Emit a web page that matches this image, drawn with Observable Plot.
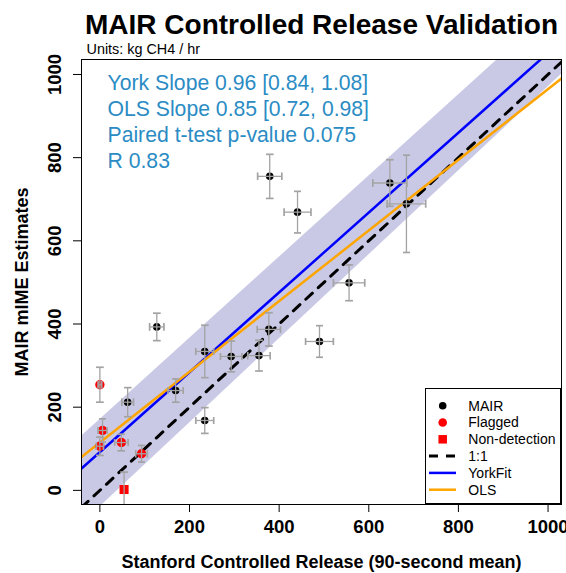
<!DOCTYPE html>
<html>
<head>
<meta charset="utf-8">
<script src="https://cdn.jsdelivr.net/npm/d3@7"></script>
<script src="https://cdn.jsdelivr.net/npm/@observablehq/plot@0.6"></script>
<style>
  body { margin: 0; background: #fff; }
  #wrap { position: relative; width: 566px; height: 573px; font-family: "Liberation Sans", Arial, Helvetica, sans-serif; }
  #legend { position: absolute; left: 425px; top: 388px; }
</style>
</head>
<body>
<div id="wrap"><div id="chart"></div><div id="legend"></div></div>
<script>
// ---------- data ----------
const xDomain = [-41, 1030];
const yDomain = [-34, 1036];
const xTicks = [0, 200, 400, 600, 800, 1000];
const yTicks = [0, 200, 400, 600, 800, 1000];

// MAIR (black) points
const mairX    = [379, 441, 647, 684, 556, 490, 377, 355, 293, 234, 169, 127, 234, 62];
const mairY    = [755, 669, 739, 689, 499, 358, 387, 324, 322, 334, 240, 393, 168, 212];
const mairXerr = [27, 30, 38, 43, 35, 31, 26, 25, 24, 20, 17, 16, 20, 13];
const mairYerr = [53, 50, 56, 117, 43, 38, 40, 37, 37, 63, 28, 33, 31, 35];

// Flagged (red) points
const flagX    = [0, 6, 0, 48, 93];
const flagY    = [254, 144, 106, 115, 88];
const flagXerr = [4, 10, 8, 15, 13];
const flagYerr = [42, 28, 22, 20, 20];

// Non-detection (red square)
const ndX = [54], ndY = [2], ndXerr = [0], ndYerr = [42];

// Fits
const york = {slope: 0.96, intercept: 92};
const ols = {slope: 0.85, intercept: 115};
const oneToOne = {slope: 1, intercept: 0};
const bandUpper = {slope: 0.976, intercept: 170};
const bandLower = {slope: 1.01, intercept: -40};

const statLines = [
  "York Slope 0.96 [0.84, 1.08]",
  "OLS Slope 0.85 [0.72, 0.98]",
  "Paired t-test p-value 0.075",
  "R 0.83"
];
const legendLabels = ["MAIR", "Flagged", "Non-detection", "1:1", "YorkFit", "OLS"];

const titleText = "MAIR Controlled Release Validation";
const subtitleParts = ["Units: kg CH", "4", " / hr"];
const xLabel = "Stanford Controlled Release (90-second mean)";
const yLabel = "MAIR mIME Estimates";

// ---------- build tables ----------
const zip = (xs, ys, exs, eys, group) => xs.map((x, i) => ({x, y: ys[i], ex: exs[i], ey: eys[i], group}));
const mair = zip(mairX, mairY, mairXerr, mairYerr, "MAIR");
const flagged = zip(flagX, flagY, flagXerr, flagYerr, "Flagged");
const nondet = zip(ndX, ndY, ndXerr, ndYerr, "Non-detection");
const allPts = [...mair, ...flagged, ...nondet];

const at = (f, x) => f.intercept + f.slope * x;
const lineData = (f) => xDomain.map(x => ({x, y: at(f, x)}));
const bandData = xDomain.map(x => ({x, lo: at(bandLower, x), hi: at(bandUpper, x)}));

const FONT = '"Liberation Sans", Arial, Helvetica, sans-serif';
const blueText = "#2b8cc4";
const barColor = "#a3a3a3";

const chart = Plot.plot({
  width: 566,
  height: 573,
  marginLeft: 81,
  marginRight: 5,
  marginTop: 59,
  marginBottom: 69,
  x: {domain: xDomain, axis: null},
  y: {domain: yDomain, axis: null},
  style: {fontFamily: FONT, background: "white", color: "black"},
  marks: [
    Plot.areaY(bandData, {x: "x", y1: "lo", y2: "hi", fill: "#c9c9e6", clip: true}),
    Plot.line(lineData(oneToOne), {x: "x", y: "y", stroke: "black", strokeWidth: 3, strokeDasharray: "9,8", clip: true}),
    Plot.line(lineData(york), {x: "x", y: "y", stroke: "#0000ff", strokeWidth: 2.5, clip: true}),
    Plot.line(lineData(ols), {x: "x", y: "y", stroke: "#ffa500", strokeWidth: 2.5, clip: true}),
    Plot.dot(mair, {x: "x", y: "y", r: 3.8, fill: "black", stroke: null}),
    Plot.dot(flagged, {x: "x", y: "y", r: 4.7, fill: "red", stroke: null}),
    Plot.dot(nondet, {x: "x", y: "y", r: 5.1, symbol: "square", fill: "red", stroke: null}),
    Plot.link(allPts.filter(d => d.ex > 0), {
      x1: d => d.x - d.ex, x2: d => d.x + d.ex, y1: "y", y2: "y",
      stroke: barColor, strokeWidth: 1.3, markerStart: "tick", markerEnd: "tick", clip: true
    }),
    Plot.link(allPts.filter(d => d.ey > 0), {
      x1: "x", x2: "x", y1: d => d.y - d.ey, y2: d => d.y + d.ey,
      stroke: barColor, strokeWidth: 1.3, markerStart: "tick", markerEnd: "tick", clip: true
    }),
    Plot.frame({stroke: "black", strokeWidth: 1}),
    Plot.axisX({ticks: xTicks, tickSize: 8, tickFormat: () => "", label: null}),
    Plot.axisY({ticks: yTicks, tickSize: 8, tickFormat: () => "", label: null}),
    Plot.text(xTicks, {x: d => d, text: d => String(d), frameAnchor: "bottom", dy: 28,
      lineAnchor: "bottom", textAnchor: "middle", fontSize: 18.5, fontWeight: "bold", fill: "black"}),
    Plot.text(yTicks, {y: d => d, text: d => String(d), frameAnchor: "left", dx: -26, rotate: -90,
      lineAnchor: "middle", textAnchor: "middle", fontSize: 18.5, fontWeight: "bold", fill: "black"}),
    Plot.text([xLabel], {text: d => d, frameAnchor: "bottom", dy: 63, lineAnchor: "bottom", textAnchor: "middle",
      fontSize: 18, fontWeight: "bold", fill: "black"}),
    Plot.text([yLabel], {text: d => d, frameAnchor: "left", dx: -59, rotate: -90, lineAnchor: "middle", textAnchor: "middle",
      fontSize: 18, fontWeight: "bold", fill: "black"}),
    Plot.text([titleText], {text: d => d, frameAnchor: "top", dy: -34, lineAnchor: "middle", textAnchor: "middle",
      fontSize: 28, fontWeight: "bold", fill: "black"}),
    Plot.text([subtitleParts.join("")], {text: d => d, frameAnchor: "top-left", dx: 5, dy: -10, lineAnchor: "middle", textAnchor: "start",
      fontSize: 14.4, fill: "black", ariaLabel: "subtitle"}),
    Plot.text([statLines.join("\n")], {text: d => d, frameAnchor: "top-left", dx: 26, dy: 12,
      lineAnchor: "top", lineHeight: 1.226, textAnchor: "start", fontSize: 21.2, fill: blueText})
  ]
});
document.getElementById("chart").appendChild(chart);

// subscript in the subtitle (CH4)
const sub = d3.select(chart).select('g[aria-label="subtitle"] text');
if (!sub.empty()) {
  sub.text(null);
  sub.append("tspan").text(subtitleParts[0]);
  sub.append("tspan").attr("font-size", "70%").attr("dy", "0.3em").text(subtitleParts[1]);
  sub.append("tspan").attr("dy", "-0.3em").text(subtitleParts[2]);
}

// ---------- legend ----------
const lw = 136, lh = 116, rowH = 16.8, row0 = 17.7;
const lg = d3.select("#legend").append("svg").attr("width", lw).attr("height", lh)
  .style("font-family", FONT).style("display", "block");
lg.append("rect").attr("x", 0.5).attr("y", 0.5).attr("width", lw - 1).attr("height", lh - 1)
  .attr("fill", "white").attr("stroke", "black");
const styles = [
  {type: "dot", fill: "black", r: 3.8},
  {type: "dot", fill: "red", r: 4.3},
  {type: "square", fill: "red", s: 8.5},
  {type: "line", stroke: "black", dash: "9,8", w: 3},
  {type: "line", stroke: "#0000ff", w: 2.5},
  {type: "line", stroke: "#ffa500", w: 2.5}
];
legendLabels.forEach((lab, i) => {
  const cy = row0 + i * rowH;
  const s = styles[i];
  if (s.type === "dot") lg.append("circle").attr("cx", 17.7).attr("cy", cy).attr("r", s.r).attr("fill", s.fill);
  else if (s.type === "square") lg.append("rect").attr("x", 17.7 - s.s / 2).attr("y", cy - s.s / 2).attr("width", s.s).attr("height", s.s).attr("fill", s.fill);
  else lg.append("line").attr("x1", 4).attr("x2", 31).attr("y1", cy).attr("y2", cy)
    .attr("stroke", s.stroke).attr("stroke-width", s.w).attr("stroke-dasharray", s.dash || null);
  lg.append("text").attr("x", 43.3).attr("y", cy).attr("dy", "0.35em").attr("font-size", 14).text(lab);
});
</script>
</body>
</html>
